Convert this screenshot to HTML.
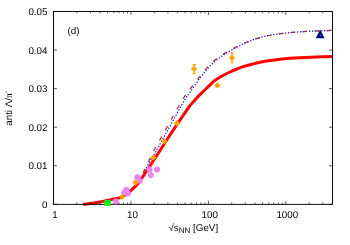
<!DOCTYPE html>
<html><head><meta charset="utf-8"><style>html,body{margin:0;padding:0;background:#fff}svg{display:block}</style></head><body>
<svg width="350" height="245" viewBox="0 0 350 245">
<rect width="350" height="245" fill="#fff"/>
<path d="M83.00,204.30 C84.17,204.18 87.67,203.92 90.00,203.60 C92.33,203.28 94.67,202.82 97.00,202.40 C99.33,201.98 101.67,201.57 104.00,201.10 C106.33,200.63 109.00,200.02 111.00,199.60 C113.00,199.18 114.58,198.92 116.00,198.60 C117.42,198.28 118.42,198.08 119.50,197.70 C120.58,197.32 121.58,196.80 122.50,196.30 C123.42,195.80 124.08,195.33 125.00,194.70 C125.92,194.07 127.00,193.37 128.00,192.50 C129.00,191.63 129.92,190.58 131.00,189.50 C132.08,188.42 133.33,187.25 134.50,186.00 C135.67,184.75 136.75,183.67 138.00,182.00 C139.25,180.33 140.83,177.83 142.00,176.00 C143.17,174.17 143.83,173.17 145.00,171.00 C146.17,168.83 147.43,165.83 149.00,163.00 C150.57,160.17 152.65,157.00 154.40,154.00 C156.15,151.00 157.82,148.00 159.50,145.00 C161.18,142.00 162.83,139.00 164.50,136.00 C166.17,133.00 167.83,130.00 169.50,127.00 C171.17,124.00 172.83,121.00 174.50,118.00 C176.17,115.00 177.70,112.17 179.50,109.00 C181.30,105.83 183.52,101.83 185.30,99.00 C187.08,96.17 187.75,95.50 190.20,92.00 C192.65,88.50 196.70,82.33 200.00,78.00 C203.30,73.67 206.67,69.43 210.00,66.00 C213.33,62.57 216.67,59.90 220.00,57.40 C223.33,54.90 226.67,52.98 230.00,51.00 C233.33,49.02 236.67,47.17 240.00,45.50 C243.33,43.83 246.67,42.33 250.00,41.00 C253.33,39.67 255.72,38.62 260.00,37.50 C264.28,36.38 268.80,35.27 275.70,34.30 C282.60,33.33 291.97,32.35 301.40,31.70 C310.83,31.05 327.15,30.62 332.30,30.40" fill="none" stroke="#0000ff" stroke-width="1.2" stroke-dasharray="1.3,1.7"/>
<path d="M83.00,204.30 C84.17,204.18 87.67,203.92 90.00,203.60 C92.33,203.28 94.67,202.82 97.00,202.40 C99.33,201.98 101.67,201.57 104.00,201.10 C106.33,200.63 109.00,200.02 111.00,199.60 C113.00,199.18 114.58,198.90 116.00,198.60 C117.42,198.30 118.42,198.15 119.50,197.80 C120.58,197.45 121.58,196.97 122.50,196.50 C123.42,196.03 124.08,195.58 125.00,195.00 C125.92,194.42 127.00,193.78 128.00,193.00 C129.00,192.22 129.92,191.27 131.00,190.30 C132.08,189.33 133.33,188.33 134.50,187.20 C135.67,186.07 136.75,185.03 138.00,183.50 C139.25,181.97 140.83,179.67 142.00,178.00 C143.17,176.33 144.00,175.00 145.00,173.50 C146.00,172.00 146.57,171.20 148.00,169.00 C149.43,166.80 151.70,163.22 153.60,160.30 C155.50,157.38 157.53,154.38 159.40,151.50 C161.27,148.62 162.87,146.00 164.80,143.00 C166.73,140.00 168.80,136.83 171.00,133.50 C173.20,130.17 175.92,126.08 178.00,123.00 C180.08,119.92 181.67,117.67 183.50,115.00 C185.33,112.33 187.28,109.28 189.00,107.00 C190.72,104.72 192.20,103.13 193.80,101.30 C195.40,99.47 196.68,97.97 198.60,96.00 C200.52,94.03 202.73,92.00 205.30,89.50 C207.87,87.00 212.55,82.42 214.00,81.00 C215.33,80.17 219.33,77.50 222.00,76.00 C224.67,74.50 227.50,73.17 230.00,72.00 C232.50,70.83 234.67,69.93 237.00,69.00 C239.33,68.07 241.50,67.20 244.00,66.40 C246.50,65.60 249.33,64.88 252.00,64.20 C254.67,63.52 257.00,62.92 260.00,62.30 C263.00,61.68 266.67,61.02 270.00,60.50 C273.33,59.98 276.67,59.57 280.00,59.20 C283.33,58.83 286.67,58.55 290.00,58.30 C293.33,58.05 295.67,57.92 300.00,57.70 C304.33,57.48 310.50,57.22 316.00,57.00 C321.50,56.78 330.17,56.50 333.00,56.40" fill="none" stroke="#ff0000" stroke-width="3" stroke-linejoin="round" stroke-linecap="butt"/>
<path d="M83.00,204.30 C84.17,204.18 87.67,203.92 90.00,203.60 C92.33,203.28 94.67,202.82 97.00,202.40 C99.33,201.98 101.67,201.57 104.00,201.10 C106.33,200.63 109.00,200.02 111.00,199.60 C113.00,199.18 114.58,198.92 116.00,198.60 C117.42,198.28 118.42,198.08 119.50,197.70 C120.58,197.32 121.58,196.80 122.50,196.30 C123.42,195.80 124.08,195.33 125.00,194.70 C125.92,194.07 127.00,193.37 128.00,192.50 C129.00,191.63 129.92,190.58 131.00,189.50 C132.08,188.42 133.33,187.25 134.50,186.00 C135.67,184.75 136.92,183.67 138.00,182.00 C139.08,180.33 140.00,177.83 141.00,176.00 C142.00,174.17 142.83,173.17 144.00,171.00 C145.17,168.83 146.67,165.83 148.00,163.00 C149.33,160.17 150.48,157.00 152.00,154.00 C153.52,151.00 155.42,148.00 157.10,145.00 C158.78,142.00 160.43,139.00 162.10,136.00 C163.77,133.00 165.43,130.00 167.10,127.00 C168.77,124.00 170.43,121.00 172.10,118.00 C173.77,115.00 175.30,112.17 177.10,109.00 C178.90,105.83 181.12,101.83 182.90,99.00 C184.68,96.17 185.10,95.60 187.80,92.00 C190.50,88.40 195.55,81.83 199.10,77.40 C202.65,72.97 205.77,68.83 209.10,65.40 C212.43,61.97 215.68,59.27 219.10,56.80 C222.52,54.33 226.18,52.55 229.60,50.60 C233.02,48.65 236.20,46.70 239.60,45.10 C243.00,43.50 246.60,42.27 250.00,41.00 C253.40,39.73 255.72,38.62 260.00,37.50 C264.28,36.38 268.80,35.27 275.70,34.30 C282.60,33.33 291.97,32.35 301.40,31.70 C310.83,31.05 327.15,30.62 332.30,30.40" fill="none" stroke="#a52a2a" stroke-width="1.2" stroke-dasharray="4.6,7.4" stroke-dashoffset="11.71"/>
<rect x="53.5" y="11.5" width="279.0" height="192.85" fill="none" stroke="#000" stroke-width="0.95"/>
<path d="M53.50,204.35 v-3.5 M53.50,11.5 v3.5 M76.82,204.35 v-1.8 M76.82,11.5 v1.8 M90.46,204.35 v-1.8 M90.46,11.5 v1.8 M100.13,204.35 v-1.8 M100.13,11.5 v1.8 M107.64,204.35 v-1.8 M107.64,11.5 v1.8 M113.77,204.35 v-1.8 M113.77,11.5 v1.8 M118.96,204.35 v-1.8 M118.96,11.5 v1.8 M123.45,204.35 v-1.8 M123.45,11.5 v1.8 M127.41,204.35 v-1.8 M127.41,11.5 v1.8 M130.96,204.35 v-3.5 M130.96,11.5 v3.5 M154.27,204.35 v-1.8 M154.27,11.5 v1.8 M167.91,204.35 v-1.8 M167.91,11.5 v1.8 M177.59,204.35 v-1.8 M177.59,11.5 v1.8 M185.09,204.35 v-1.8 M185.09,11.5 v1.8 M191.23,204.35 v-1.8 M191.23,11.5 v1.8 M196.41,204.35 v-1.8 M196.41,11.5 v1.8 M200.91,204.35 v-1.8 M200.91,11.5 v1.8 M204.87,204.35 v-1.8 M204.87,11.5 v1.8 M208.41,204.35 v-3.5 M208.41,11.5 v3.5 M231.73,204.35 v-1.8 M231.73,11.5 v1.8 M245.37,204.35 v-1.8 M245.37,11.5 v1.8 M255.04,204.35 v-1.8 M255.04,11.5 v1.8 M262.55,204.35 v-1.8 M262.55,11.5 v1.8 M268.68,204.35 v-1.8 M268.68,11.5 v1.8 M273.87,204.35 v-1.8 M273.87,11.5 v1.8 M278.36,204.35 v-1.8 M278.36,11.5 v1.8 M282.32,204.35 v-1.8 M282.32,11.5 v1.8 M285.87,204.35 v-3.5 M285.87,11.5 v3.5 M309.18,204.35 v-1.8 M309.18,11.5 v1.8 M322.82,204.35 v-1.8 M322.82,11.5 v1.8 M332.50,204.35 v-1.8 M332.50,11.5 v1.8 M53.5,204.35 h3.5 M332.5,204.35 h-3.5 M53.5,165.78 h3.5 M332.5,165.78 h-3.5 M53.5,127.21 h3.5 M332.5,127.21 h-3.5 M53.5,88.64 h3.5 M332.5,88.64 h-3.5 M53.5,50.07 h3.5 M332.5,50.07 h-3.5 M53.5,11.50 h3.5 M332.5,11.50 h-3.5" stroke="#000" stroke-width="0.65" fill="none"/>
<circle cx="115.9" cy="201.4" r="3" fill="#ee82ee"/>
<circle cx="126.3" cy="189.7" r="3" fill="#ee82ee"/>
<circle cx="124.3" cy="192.6" r="3" fill="#ee82ee"/>
<circle cx="127.9" cy="193.5" r="3" fill="#ee82ee"/>
<circle cx="137.4" cy="177.3" r="3" fill="#ee82ee"/>
<circle cx="139.9" cy="180.7" r="3" fill="#ee82ee"/>
<circle cx="149.5" cy="169.5" r="3" fill="#ee82ee"/>
<circle cx="150.8" cy="175" r="3" fill="#ee82ee"/>
<circle cx="157" cy="169.4" r="3" fill="#ee82ee"/>
<path d="M122.1,193.70000000000002 L125.3,196.9 L122.1,200.1 L118.89999999999999,196.9 Z" fill="#ffa500"/>
<path d="M135.5,179.3 L138.7,182.5 L135.5,185.7 L132.3,182.5 Z" fill="#ffa500"/>
<path d="M153.5,154.4 L156.7,157.6 L153.5,160.79999999999998 L150.3,157.6 Z" fill="#ffa500"/>
<path d="M164.4,138.0 L167.6,141.2 L164.4,144.39999999999998 L161.20000000000002,141.2 Z" fill="#ffa500"/>
<path d="M176.9,120.0 L180.1,123.2 L176.9,126.4 L173.70000000000002,123.2 Z" fill="#ffa500"/>
<path d="M217.4,82.2 L220.6,85.4 L217.4,88.60000000000001 L214.20000000000002,85.4 Z" fill="#ffa500"/>
<path d="M194.1,64.5 V73.4 M192.5,64.5 h3.2 M192.5,73.4 h3.2" stroke="#ffa500" stroke-width="1.25" fill="none"/>
<path d="M194.1,65.6 L197.29999999999998,68.8 L194.1,72.0 L190.9,68.8 Z" fill="#ffa500"/>
<path d="M232,52.9 V62.6 M230.4,52.9 h3.2 M230.4,62.6 h3.2" stroke="#ffa500" stroke-width="1.25" fill="none"/>
<path d="M232,54.5 L235.2,57.7 L232,60.900000000000006 L228.8,57.7 Z" fill="#ffa500"/>
<rect x="104.4" y="200" width="6.4" height="5.8" fill="#00f000"/>
<path d="M320.2,29.6 L324.6,38.2 L315.8,38.2 Z" fill="#000080"/>
<path d="M319.6,36 L320.3,34.6 L321,36 Z" fill="#9a9ad8"/>
<g font-family="Liberation Sans, sans-serif" font-size="9.8" fill="#000" text-rendering="geometricPrecision" style="will-change:transform;transform:translateZ(0)">
<text x="47.5" y="207.8" text-anchor="end">0</text>
<text x="47.5" y="169.2" text-anchor="end">0.01</text>
<text x="47.5" y="130.6" text-anchor="end">0.02</text>
<text x="47.5" y="92.0" text-anchor="end">0.03</text>
<text x="47.5" y="53.5" text-anchor="end">0.04</text>
<text x="47.5" y="14.9" text-anchor="end">0.05</text>
<text x="54.9" y="217.8" text-anchor="middle">1</text>
<text x="132.4" y="217.8" text-anchor="middle">10</text>
<text x="209.8" y="217.8" text-anchor="middle">100</text>
<text x="287.3" y="217.8" text-anchor="middle">1000</text>
<text x="67.5" y="34.3">(d)</text>
<text x="193.3" y="230.8" text-anchor="middle">√s<tspan font-size="8" dy="2">NN</tspan><tspan dy="-2"> [GeV]</tspan></text>
<text transform="translate(12.3,108.2) rotate(-90)" text-anchor="middle">anti Λ/<tspan font-family="Liberation Serif, serif">π</tspan><tspan font-size="7" dy="-4">-</tspan></text>
</g>
</svg>
</body></html>
